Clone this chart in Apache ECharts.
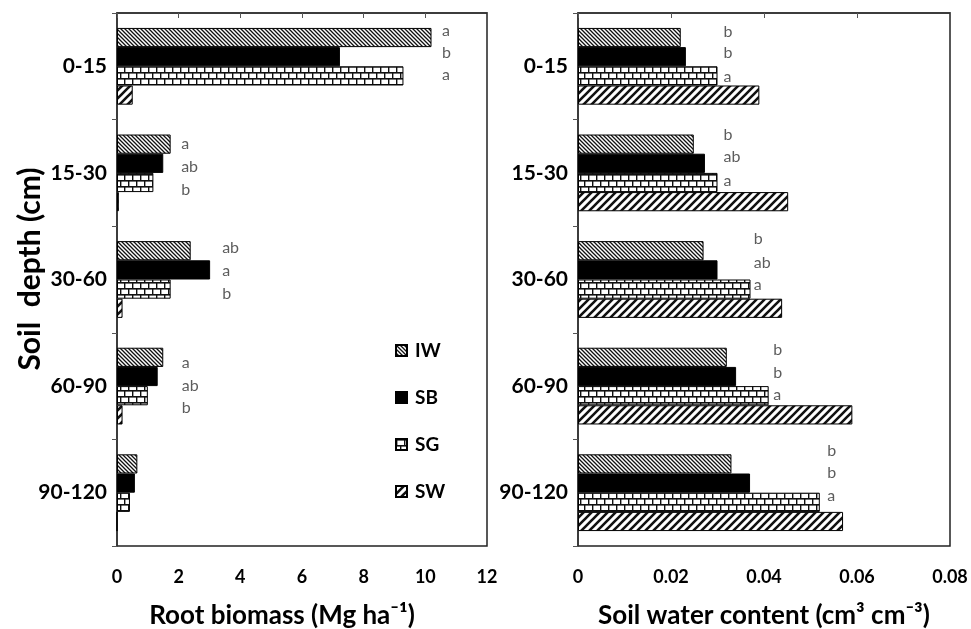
<!DOCTYPE html>
<html>
<head>
<meta charset="utf-8">
<script src="https://cdn.jsdelivr.net/npm/echarts@6/dist/echarts.min.js"></script>
<style>
  html, body { margin: 0; padding: 0; background: #fff; }
  #chart { width: 971px; height: 629px; }
</style>
</head>
<body>
<div id="chart"></div>
<script>
// 数据
const depths = ['0-15', '15-30', '30-60', '60-90', '90-120']
const treatments = ['IW', 'SB', 'SG', 'SW']

// Root biomass (Mg ha-1)
const rootIW = [10.2, 1.74, 2.39, 1.5, 0.66]
const rootSB = [7.23, 1.5, 3.02, 1.32, 0.58]
const rootSG = [9.29, 1.18, 1.74, 1.0, 0.42]
const rootSW = [0.51, 0.06, 0.18, 0.18, 0]

// Soil water content (cm3 cm-3)
const waterIW = [0.0221, 0.0249, 0.027, 0.032, 0.033]
const waterSB = [0.0232, 0.0273, 0.030, 0.034, 0.037]
const waterSG = [0.030, 0.030, 0.0371, 0.041, 0.052]
const waterSW = [0.039, 0.0452, 0.0439, 0.059, 0.057]

const rootTicks = { max: 12, interval: 2 }
const waterTicks = { max: 0.08, interval: 0.02 }

// significance letters: [letter, x value, depth position]
const rootLetters = [
  ['a', 10.54, 0.17], ['b', 10.54, 0.375], ['a', 10.54, 0.58],
  ['a', 2.08, 1.23], ['ab', 2.08, 1.445], ['b', 2.08, 1.66],
  ['ab', 3.41, 2.2], ['a', 3.41, 2.42], ['b', 3.41, 2.63],
  ['a', 2.1, 3.28], ['ab', 2.1, 3.5], ['b', 2.1, 3.705]
]
const waterLetters = [
  ['b', 0.0313, 0.18], ['b', 0.0313, 0.375], ['a', 0.0313, 0.6],
  ['b', 0.0313, 1.145], ['ab', 0.0313, 1.35], ['a', 0.0313, 1.575],
  ['b', 0.0378, 2.12], ['ab', 0.0378, 2.345], ['a', 0.0378, 2.55],
  ['b', 0.042, 3.16], ['b', 0.042, 3.375], ['a', 0.042, 3.58],
  ['b', 0.0536, 4.11], ['b', 0.0536, 4.315], ['a', 0.0536, 4.53]
]

// 填充图案
function makePattern(type) {
  const c = document.createElement('canvas')
  const ctx = c.getContext('2d')
  if (type === 'IW') {
    c.width = 4; c.height = 4
    ctx.fillStyle = '#fff'; ctx.fillRect(0, 0, 4, 4)
    ctx.strokeStyle = '#111'; ctx.lineWidth = 1.3
    ctx.beginPath()
    ctx.moveTo(-1, -1); ctx.lineTo(5, 5)
    ctx.moveTo(-1, 3); ctx.lineTo(1, 5)
    ctx.moveTo(3, -1); ctx.lineTo(5, 1)
    ctx.stroke()
  } else if (type === 'SW') {
    c.width = 8; c.height = 8
    ctx.fillStyle = '#fff'; ctx.fillRect(0, 0, 8, 8)
    ctx.strokeStyle = '#111'; ctx.lineWidth = 2.6
    ctx.beginPath()
    ctx.moveTo(-1, 9); ctx.lineTo(9, -1)
    ctx.moveTo(-3, 3); ctx.lineTo(3, -3)
    ctx.moveTo(5, 11); ctx.lineTo(11, 5)
    ctx.stroke()
  } else if (type === 'SG') {
    c.width = 16; c.height = 12
    ctx.fillStyle = '#fff'; ctx.fillRect(0, 0, 16, 12)
    ctx.fillStyle = '#111'
    ctx.fillRect(0, 0, 16, 1.6)
    ctx.fillRect(0, 6, 16, 1.6)
    ctx.fillRect(0, 0, 1.4, 6)
    ctx.fillRect(8, 0, 1.4, 6)
    ctx.fillRect(4, 6, 1.4, 6)
    ctx.fillRect(12, 6, 1.4, 6)
  }
  return c
}

function fillFor(name) {
  if (name === 'SB') return '#000'
  return { image: makePattern(name), repeat: 'repeat' }
}

const fontFamily = 'Lato, "Open Sans", sans-serif'
const chart = echarts.init(document.getElementById('chart'))

function barSeries(name, data, gridNo) {
  return {
    name: name,
    type: 'bar',
    xAxisIndex: gridNo,
    yAxisIndex: gridNo * 2,
    data: data,
    barGap: '0%',
    barCategoryGap: '28%',
    itemStyle: { color: fillFor(name), borderColor: '#000', borderWidth: 1 },
    emphasis: { disabled: true }
  }
}

function letterSeries(letters, gridNo) {
  return {
    type: 'scatter',
    xAxisIndex: gridNo,
    yAxisIndex: gridNo * 2 + 1,
    symbolSize: 0,
    data: letters.map(l => ({ value: [l[1], l[2]], name: l[0] })),
    label: {
      show: true,
      position: 'right',
      distance: 0,
      formatter: p => p.name,
      fontFamily: fontFamily,
      fontSize: 16,
      color: '#333'
    },
    silent: true
  }
}

function catAxis(gridNo) {
  return {
    type: 'category',
    gridIndex: gridNo,
    data: depths,
    inverse: true,
    axisLine: { lineStyle: { color: '#333', width: 1.5 } },
    axisTick: { show: true, length: 5, lineStyle: { color: '#555' } },
    axisLabel: { color: '#000', fontFamily: fontFamily, fontWeight: 'bold', fontSize: 21, margin: 10 },
    name: gridNo === 0 ? 'Soil  depth (cm)' : '',
    nameLocation: 'middle',
    nameGap: 72,
    nameMoveOverlap: false,
    nameTextStyle: { color: '#000', fontFamily: fontFamily, fontWeight: 'bold', fontSize: 30, padding: [0, 0, 0, 21] }
  }
}

function posAxis(gridNo) {
  return {
    type: 'value',
    gridIndex: gridNo,
    min: 0,
    max: depths.length,
    inverse: true,
    show: false
  }
}

function valAxis(gridNo, ticks, name, pad) {
  return {
    type: 'value',
    gridIndex: gridNo,
    min: 0,
    max: ticks.max,
    interval: ticks.interval,
    splitLine: { show: false },
    axisLine: { show: true, lineStyle: { color: '#333', width: 1.5 } },
    axisTick: { show: true, length: 5, lineStyle: { color: '#555' } },
    axisLabel: { color: '#000', fontFamily: fontFamily, fontWeight: 'bold', fontSize: 18, margin: 22 },
    name: name,
    nameLocation: 'middle',
    nameGap: 57,
    nameMoveOverlap: false,
    nameTextStyle: { color: '#000', fontFamily: fontFamily, fontWeight: 'bold', fontSize: 26, padding: pad }
  }
}

const option = {
  backgroundColor: '#fff',
  animation: false,
  grid: [
    { left: 117, right: 484, top: 13, bottom: 83, show: true, borderColor: '#222', borderWidth: 1.5, outerBoundsMode: 'none' },
    { left: 578, right: 21, top: 13, bottom: 83, show: true, borderColor: '#222', borderWidth: 1.5, outerBoundsMode: 'none' }
  ],
  legend: {
    data: treatments,
    orient: 'vertical',
    left: 390,
    top: 336,
    icon: 'rect',
    itemWidth: 11,
    itemHeight: 11,
    itemGap: 28,
    textStyle: { color: '#000', fontFamily: fontFamily, fontWeight: 'bold', fontSize: 19, padding: [0, 0, 0, 3] }
  },
  xAxis: [
    valAxis(0, rootTicks, 'Root biomass (Mg ha⁻¹)', [0, 40, 0, 0]),
    valAxis(1, waterTicks, 'Soil water content (cm³ cm⁻³)', 0)
  ],
  yAxis: [catAxis(0), posAxis(0), catAxis(1), posAxis(1)],
  series: [
    barSeries('IW', rootIW, 0),
    barSeries('SB', rootSB, 0),
    barSeries('SG', rootSG, 0),
    barSeries('SW', rootSW, 0),
    barSeries('IW', waterIW, 1),
    barSeries('SB', waterSB, 1),
    barSeries('SG', waterSG, 1),
    barSeries('SW', waterSW, 1),
    letterSeries(rootLetters, 0),
    letterSeries(waterLetters, 1)
  ]
}

chart.setOption(option)
</script>
</body>
</html>
